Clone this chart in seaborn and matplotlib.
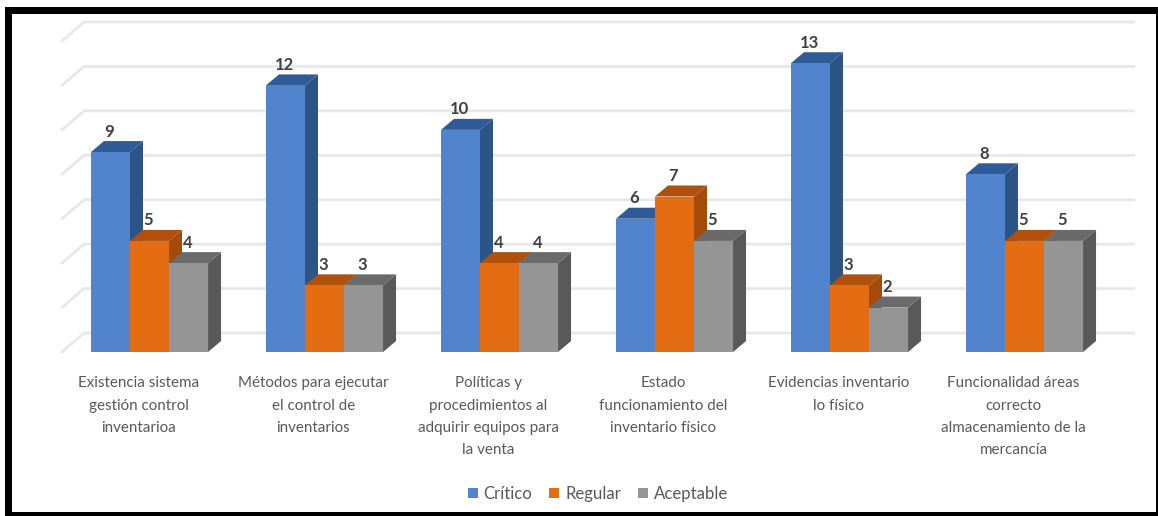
import matplotlib
matplotlib.use("Agg")
import matplotlib.pyplot as plt
import matplotlib.transforms as mtrans
import pandas as pd
import seaborn as sns
from matplotlib.patches import Polygon, Rectangle

categories = [
    "Existencia sistema\ngestión control\ninventarioa",
    "Métodos para ejecutar\nel control de\ninventarios",
    "Políticas y\nprocedimientos al\nadquirir equipos para\nla venta",
    "Estado\nfuncionamiento del\ninventario físico",
    "Evidencias inventario\nlo físico",
    "Funcionalidad áreas\ncorrecto\nalmacenamiento de la\nmercancía",
]
critico = [9, 12, 10, 6, 13, 8]
regular = [5, 3, 4, 7, 3, 5]
aceptable = [4, 3, 4, 5, 2, 5]
series_names = ["Crítico", "Regular", "Aceptable"]
front_colors = ["#5184CC", "#E46C12", "#959595"]
side_colors = ["#2D5487", "#A64A08", "#595959"]
top_colors = ["#2F5C96", "#B0500C", "#6A6A6A"]
grid_ticks = [0, 2, 4, 6, 8, 10, 12, 14]

W, H = 1158, 516
fig = plt.figure(figsize=(W / 100, H / 100), dpi=100, facecolor="white")
plt.rcParams["font.family"] = ["Lato", "DejaVu Sans"]

# black picture frame
for x0, y0, w, h in [(5, 7, 1153, 7), (5, 7, 7, 509), (5, 512, 1153, 4), (1156, 7, 2, 509)]:
    fig.add_artist(Rectangle((x0 / W, 1 - (y0 + h) / H), w / W, h / H,
                             transform=fig.transFigure, facecolor="black", edgecolor="none"))

# front plane of the axes in pixels
L, R, BASE, TOP = 62, 1112, 352, 41
ax = fig.add_axes([L / W, 1 - BASE / H, (R - L) / W, (BASE - TOP) / H])
ax.patch.set_alpha(0)

df = pd.DataFrame({
    "cat": categories * 3,
    "serie": [s for s in series_names for _ in categories],
    "valor": critico + regular + aceptable,
})
sns.barplot(data=df, x="cat", y="valor", hue="serie", hue_order=series_names,
            palette=front_colors, width=0.669, gap=0, saturation=1, ax=ax, legend=False)
ax.set_xlim(-0.5, 5.5)
ax.set_ylim(0, 14)

px_x = (R - L) / 6
px_y = (BASE - TOP) / 14
wall_dx, wall_dy = 22 / px_x, 19 / px_y
bar_dx, bar_dy = 13 / px_x, 11 / px_y

# perspective gridlines on the wall
for t in grid_ticks:
    ax.plot([-0.5, -0.5 + wall_dx, 5.5 + wall_dx], [t, t + wall_dy, t + wall_dy],
            color="#E8E8E8", lw=2, clip_on=False, zorder=1, solid_capstyle="round")

# 3-D faces and labels from the bars seaborn drew
for i, container in enumerate(ax.containers):
    for bar in container:
        x0, w, h = bar.get_x(), bar.get_width(), bar.get_height()
        x1 = x0 + w
        base_z = 3 + 2 * i
        bar.set_zorder(base_z + 1)
        bar.set_edgecolor("none")
        ax.add_patch(Polygon([(x1, 0), (x1 + bar_dx, bar_dy), (x1 + bar_dx, h + bar_dy), (x1, h)],
                             closed=True, fc=side_colors[i], ec="none", zorder=base_z, clip_on=False))
        ax.add_patch(Polygon([(x0, h), (x0 + bar_dx, h + bar_dy), (x1 + bar_dx, h + bar_dy), (x1, h)],
                             closed=True, fc=top_colors[i], ec="none", zorder=base_z, clip_on=False))
        ax.annotate(f"{int(h)}", (x0 + w / 2, h), xytext=(-0.7, 9), textcoords="offset points",
                    ha="center", va="bottom", fontsize=12, fontweight="bold", color="#404040",
                    zorder=20, annotation_clip=False)

ax.set_xlabel("")
ax.set_ylabel("")
ax.set_yticks([])
ax.tick_params(axis="x", length=0, pad=17.5, labelsize=10.9, labelcolor="#595959")
label_shift = mtrans.ScaledTranslation(-11 / 100, 0, fig.dpi_scale_trans)
for lab in ax.get_xticklabels():
    lab.set_linespacing(1.75)
    lab.set_verticalalignment("top")
    lab.set_transform(lab.get_transform() + label_shift)
for s in ax.spines.values():
    s.set_visible(False)

handles = [Rectangle((0, 0), 1, 1, fc=c, ec="none") for c in front_colors]
fig.legend(handles, series_names, loc="center", bbox_to_anchor=(598 / W, 1 - 494 / H), ncol=3,
           frameon=False, fontsize=12.1, labelcolor="#595959", handlelength=0.6, handleheight=0.6,
           handletextpad=0.35, columnspacing=1.0)

fig.savefig("out.png", dpi=100, facecolor="white")
